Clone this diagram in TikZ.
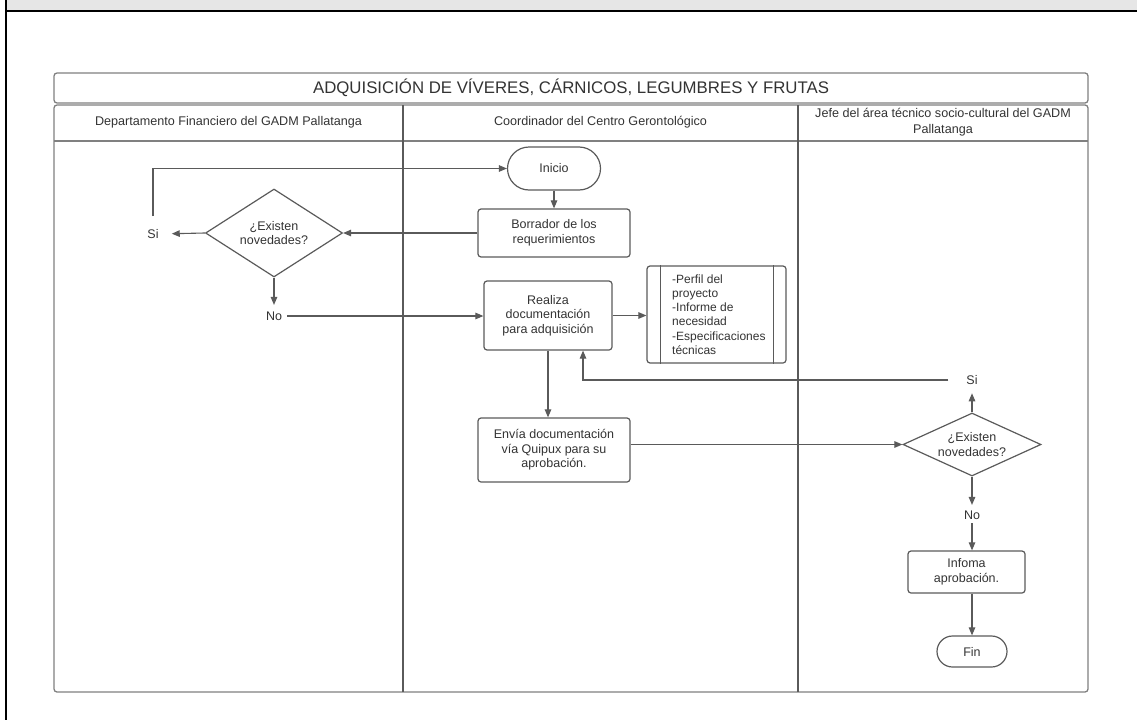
\documentclass[tikz,border=0pt]{standalone}
\usepackage{fontspec}
\setmainfont{Liberation Sans}
\usetikzlibrary{shapes.geometric,shapes.misc,arrows.meta,calc}
\definecolor{ink}{HTML}{333333}
\definecolor{edge}{HTML}{5A5A5A}
\definecolor{pool}{HTML}{808080}
\definecolor{band}{HTML}{E6E6E6}

\begin{document}
\begin{tikzpicture}[x=1pt,y=-1pt,
  font=\fontsize{12.5}{14.5}\selectfont, text=ink,
  proc/.style={draw=edge, line width=1.2pt, rounded corners=3pt, align=center, inner sep=0pt},
  term/.style={draw=edge, line width=1.2pt, rounded rectangle, align=center, inner sep=0pt},
  dec/.style={draw=edge, line width=1.2pt, diamond, align=center, inner sep=0pt},
  lbl/.style={inner sep=0pt},
  hdr/.style={align=center, inner sep=0pt, font=\fontsize{12.6}{16}\selectfont},
  flow/.style={draw=edge, line width=1.1pt, -{Triangle[length=8pt,width=6.5pt]}},
  lane/.style={draw=pool, line width=1.3pt, rounded corners=3pt},
  divider/.style={draw=edge, line width=1.6pt}]

\useasboundingbox (0,0) rectangle (1137,720);

% page frame
\fill[band] (7,0) rectangle (1137,11);
\draw[black, line width=2pt] (6,11) -- (1137,11);
\draw[black, line width=2pt] (6,0) -- (6,720);

% pool: title bar, lanes and header row
\draw[lane] (54,73) rectangle (1088,103);
\draw[lane] (54,105) rectangle (1088,692);
\draw[lane] (54,141) -- (1088,141);
\draw[divider] (403,105) -- (403,692);
\draw[divider] (798,105) -- (798,692);

\node[hdr, font=\fontsize{16.8}{18}\selectfont] (title) at (571,88)
  {ADQUISICIÓN DE VÍVERES, CÁRNICOS, LEGUMBRES Y FRUTAS};
\node[hdr] (h1) at (228.5,122) {Departamento Financiero del GADM Pallatanga};
\node[hdr] (h2) at (600.5,122) {Coordinador del Centro Gerontológico};
\node[hdr] (h3) at (943,122) {Jefe del área técnico socio-cultural del GADM\\Pallatanga};

% flow nodes
\node[term, minimum width=93pt, minimum height=43pt] (inicio) at (554,168.5) {Inicio};
\node[proc, minimum width=152pt, minimum height=48pt] (borr) at (554,233) {Borrador de los\\requerimientos};
\node[dec, aspect=1.56, minimum width=137pt, minimum height=88pt] (d1) at (274,233) {¿Existen\\novedades?};
\node[lbl] (si1) at (153,234) {Si};
\node[lbl] (no1) at (274,316) {No};
\node[proc, minimum width=128pt, minimum height=69pt] (real) at (548,315.5)
  {Realiza\\documentación\\para adquisición};
\node[proc, minimum width=139pt, minimum height=97pt] (doc) at (716.5,314.5) {};
\draw[draw=edge, line width=1.2pt] ([xshift=14pt]doc.north west) -- ([xshift=14pt]doc.south west);
\draw[draw=edge, line width=1.2pt] ([xshift=-13pt]doc.north east) -- ([xshift=-13pt]doc.south east);
\node[anchor=west, align=left, inner sep=0pt, font=\fontsize{12}{14.2}\selectfont] (doctxt) at (672,314.5)
  {-Perfil del\\proyecto\\-Informe de\\necesidad\\-Especificaciones\\técnicas};
\node[proc, minimum width=152pt, minimum height=64pt] (envia) at (554,450)
  {Envía documentación\\vía Quipux para su\\aprobación.};
\node[dec, aspect=2.2, minimum width=138pt, minimum height=63pt] (d2) at (972,444.5) {¿Existen\\novedades?};
\node[lbl] (si2) at (972,380) {Si};
\node[lbl] (no2) at (972,515) {No};
\node[proc, minimum width=117pt, minimum height=42pt] (inf) at (966.5,572) {Infoma\\aprobación.};
\node[term, minimum width=70pt, minimum height=31pt] (fin) at (972,651.5) {Fin};

% connectors
\draw[flow] (inicio.south) -- (borr.north);
\draw[flow] (borr.west) -- (d1.east);
\draw[flow, shorten >=13pt] (d1.west) -- (si1.east);
\draw[flow, shorten <=13pt] (si1.north) |- (inicio.west);
\draw[flow, shorten >=6.5pt] (d1.south) -- (no1.north);
\draw[flow, shorten <=5pt] (no1.east) -- (no1.east -| real.west);
\draw[flow] (real.east) -- (real.east -| doc.west);
\draw[flow] (real.south) -- (real.south |- envia.north);
\draw[flow] (d2.west -| envia.east) -- (d2.west);
\draw[flow, shorten >=8.5pt] (d2.north) -- (si2.south);
\draw[flow, shorten <=18pt] (si2.west) -| ([xshift=35pt]real.south);
\draw[flow, shorten >=5.5pt] (d2.south) -- (no2.north);
\draw[flow, shorten <=3.5pt] (no2.south) -- (no2.south |- inf.north);
\draw[flow] (inf.south -| fin.north) -- (fin.north);

\end{tikzpicture}
\end{document}
